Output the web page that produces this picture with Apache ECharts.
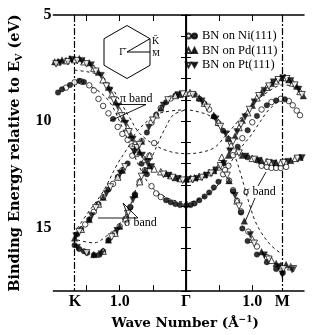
<!DOCTYPE html>
<html><head><meta charset="utf-8">
<script src="https://cdn.jsdelivr.net/npm/echarts@6/dist/echarts.min.js"></script>
<style>html,body{margin:0;padding:0;background:#fff}#c{width:313px;height:335px}</style>
</head><body><div id="c"></div>
<script>
// ---- axis definitions (k in 1/Å, Γ = 0; E in eV) ----
const kMin = -2.0, kMax = 1.78;
const kK = -1.676, kGamma = 0, kM = 1.451;
const kTickValues = [-1.5, -1.0, -0.5, 0.5, 1.0];
const kLabelValues = [-1.676, -1.0, 0, 1.0, 1.451];
const kLabelTexts = ['K', '1.0', 'Γ', '1.0', 'M'];
const eMin = 5, eMax = 18;
const eLabelValues = [5, 10, 15];

// ---- measured points [k, E] ----
const niOpen = [
  [-1.81,8.42],[-1.68,8.17],[-1.58,8.13],[-1.46,8.31],[-1.39,8.55],[-1.32,8.95],[-1.25,9.28],[-1.17,9.63],
  [-1.03,10.27],[-0.96,10.6],[-0.88,10.88],[-0.81,11.18],[-0.74,11.55],[-0.52,13.06],[-0.45,13.4],[-0.38,13.57],
  [0.56,12.5],[0.64,12.1],[0.71,11.6],[0.85,10.8],[1.0,10.05],[1.14,9.45],[1.29,9.1],[1.43,8.95],[1.55,9.05],[1.61,9.25],[1.67,9.5],[1.72,9.72],
  [-1.52,14.86],[-1.39,14.27],[-1.25,13.58],[-1.1,12.95],[-0.96,12.31],[-0.81,11.62],[-0.67,10.94],[-0.52,10.07],[-0.38,9.38],[-0.23,8.93],
  [-1.07,15.27],[-1.0,14.95],[-0.91,14.59],[-0.84,14.04],[-0.77,13.45],[-0.7,12.85],[-0.62,12.31],[-0.55,11.62],[-0.48,11.03],
  [0.2,8.95],[0.35,9.45],[0.49,10.1],[0.64,10.85],
  [1.14,12.1],[1.22,12.15],[1.29,12.2],[1.36,12.2],[1.43,12.2],[1.51,12.15],
  [0.59,12.3],[0.65,12.8],[0.71,13.25],[0.77,13.75],[0.83,14.25],[0.94,15.2],[1.07,15.9],[1.22,16.4]
];
const niFilled = [
  [-1.93,8.65],[-1.87,8.5],[-1.75,8.3],[-1.61,8.1],[-1.54,8.15],[-1.1,9.9],[-0.67,12.0],[-0.59,12.5],
  [-0.3,13.72],[-0.23,13.82],[-0.16,13.9],[-0.09,13.95],[0,13.97],[0.07,13.95],[0.13,13.87],[0.2,13.72],[0.28,13.55],[0.35,13.36],[0.42,13.12],[0.49,12.85],
  [0.78,11.2],[0.93,10.43],[1.07,9.75],[1.22,9.25],[1.36,9.02],[1.49,8.97],
  [-1.64,15.32],[-1.58,15.09],[-1.46,14.63],[-1.32,13.9],[-1.17,13.22],[-1.03,12.63],[-0.88,11.99],[-0.74,11.3],[-0.59,10.53],[-0.45,9.7],[-0.3,9.11],[-0.16,8.79],
  [-1.68,15.84],[-1.61,16.02],[-1.54,16.12],[-1.49,16.2],[-1.39,16.3],[-1.32,16.3],[-1.25,16.12],[-1.17,15.6],[-0.84,14.06],[-0.77,13.47],
  [0.13,8.75],[0.28,9.18],[0.42,9.78],[0.56,10.45],
  [0.71,13.3],[0.83,14.3],[0.85,15.05],[0.93,15.64],[1.07,16.28],[1.22,16.64],[1.36,16.96],[1.46,17.15],
  [0.93,11.7],[1.07,11.85]
];
const pdOpen = [
  [-1.93,7.2],[-1.81,7.15],[-1.68,7.1],[-1.54,7.2],[-1.39,7.5],[-1.25,8.05],[-1.12,8.75],[-1.0,9.5],[-0.88,10.3],[-0.77,11.05],[-0.62,11.8],[-0.48,12.25],
  [-0.38,12.38],[-0.23,12.56],[-0.09,12.7],[0.07,12.7],[0.2,12.6],[0.35,12.42],[0.49,12.15],
  [0.68,11.15],[0.8,10.3],[0.93,9.6],[1.07,8.9],[1.22,8.4],[1.36,8.1],[1.49,7.95],[1.61,8.2],[1.72,8.6],
  [-1.58,15.09],[-1.32,13.9],[-1.03,12.63],[-0.74,11.3],[-0.45,9.7],[-0.16,8.79],[0,8.68],
  [-1.25,16.12],[-1.07,15.27],[-0.91,14.59],[-0.7,12.85],[-0.55,11.62],
  [0.06,8.65],[0.28,9.15],[0.49,10.05],
  [0.78,11.4],[1.0,11.75],[1.22,11.9],[1.43,11.95],[1.65,11.75],
  [0.54,11.7],[0.77,13.75],[1.0,15.55],[1.29,16.55],[1.43,16.8],[1.58,16.85]
];
const pdFilled = [
  [-1.98,7.2],[-1.87,7.12],[-1.75,7.05],[-1.61,7.05],[-1.46,7.25],[-1.32,7.7],[-1.17,8.4],[-1.06,9.1],[-0.94,9.9],[-0.83,10.65],[-0.7,11.45],[-0.55,12.1],
  [-0.3,12.47],[-0.16,12.66],[0,12.72],[0.13,12.66],[0.28,12.52],[0.42,12.33],[0.56,11.92],
  [0.64,11.6],[0.74,10.7],[0.85,9.95],[1.0,9.25],[1.14,8.65],[1.29,8.22],[1.43,7.95],[1.55,8.05],[1.67,8.35],[1.77,8.8],
  [-1.68,15.5],[-1.46,14.63],[-1.25,13.58],[-0.96,12.31],[-0.67,10.94],[-0.38,9.38],[-0.09,8.74],
  [-1.39,16.28],[-1.17,15.59],[-1.0,14.95],[-0.77,13.45],[-0.62,12.31],
  [0.2,8.9],[0.42,9.72],[0.64,10.8],
  [0.85,11.6],[1.14,11.85],[1.36,11.95],[1.58,11.85],[1.72,11.7],
  [0.65,12.8],[0.88,14.7],[1.14,16.15],[1.36,16.7],[1.51,16.75]
];
const ptOpen = [
  [-1.96,7.3],[-1.78,7.2],[-1.64,7.15],[-1.5,7.3],[-1.36,7.65],[-1.2,8.35],[-1.09,9.0],[-0.97,9.75],[-0.86,10.5],[-0.74,11.25],[-0.58,11.95],
  [-0.34,12.5],[-0.2,12.65],[-0.05,12.78],[0.1,12.75],[0.24,12.65],[0.38,12.45],[0.52,12.1],
  [0.71,10.95],[0.83,10.15],[0.96,9.45],[1.1,8.8],[1.25,8.35],[1.39,8.05],[1.52,8.0],[1.64,8.3],[1.75,8.75],
  [-1.61,15.2],[-1.36,14.08],[-1.14,13.1],[-0.92,12.15],[-0.7,11.1],[-0.5,9.95],[-0.27,9.0],[-0.05,8.72],
  [-1.5,16.2],[-1.12,15.45],[-0.88,14.35],[-0.67,12.6],
  [0.1,8.75],[0.32,9.35],[0.52,10.25],
  [0.8,11.5],[1.03,11.8],[1.25,11.95],[1.47,11.95],[1.68,11.75],
  [0.62,12.55],[0.8,14.0],[1.03,15.75],[1.25,16.5],[1.47,16.95],[1.62,16.95]
];
const ptFilled = [
  [-1.9,7.25],[-1.72,7.1],[-1.57,7.15],[-1.43,7.35],[-1.28,7.85],[-1.15,8.55],[-1.03,9.3],[-0.91,10.1],[-0.8,10.85],[-0.66,11.6],[-0.52,12.15],
  [-0.26,12.55],[-0.12,12.7],[0.03,12.75],[0.17,12.7],[0.31,12.55],[0.45,12.3],
  [0.66,11.4],[0.77,10.5],[0.89,9.8],[1.03,9.1],[1.18,8.55],[1.32,8.15],[1.46,7.97],[1.58,8.1],[1.7,8.5],
  [-1.66,15.4],[-1.42,14.45],[-1.2,13.4],[-0.99,12.45],[-0.78,11.45],[-0.56,10.3],[-0.34,9.25],[-0.12,8.76],
  [-1.64,15.95],[-1.28,16.25],[-1.04,15.15],[-0.8,13.7],[-0.58,11.9],
  [0.24,9.05],[0.45,9.9],[0.6,10.6],
  [0.9,11.65],[1.1,11.85],[1.32,11.98],[1.54,11.9],[1.75,11.72],
  [0.57,12.0],[0.74,13.5],[0.97,15.35],[1.18,16.3],[1.4,16.85],[1.45,17.2],[1.6,17.0]
];

// ---- calculated bands (dashed) ----
const calcA = [[-1.68,7.6],[-1.46,7.69],[-1.27,7.88],[-1.10,8.52],[-0.96,9.25],[-0.84,9.89],[-0.70,10.57],[-0.45,11.16],[-0.23,11.44],[0,11.53],[0.20,11.48],[0.42,11.26],[0.59,10.71],[0.78,10.02],[0.93,9.47],[1.07,9.02],[1.22,8.65],[1.36,8.38],[1.46,8.29],[1.58,8.33],[1.72,8.52],[1.78,8.65]];
const calcB = [[-1.64,15.05],[-1.49,14.36],[-1.25,13.31],[-1.03,11.99],[-0.88,11.26],[-0.74,10.48],[-0.45,9.70],[-0.23,9.52],[0,9.47],[0.20,9.57],[0.38,9.79],[0.56,10.39],[0.67,11.26],[0.75,11.76],[0.83,12.53],[0.90,13.31],[0.97,14.04],[1.04,14.68],[1.14,15.27],[1.29,15.87],[1.46,16.28]];
const calcC = [[-1.64,15.59],[-1.39,15.73],[-1.20,15.41],[-1.00,14.82],[-0.85,14.04],[-0.77,13.31],[-0.67,12.67],[-0.59,12.21],[-0.49,11.53],[-0.41,10.94],[-0.30,10.25],[-0.19,9.70],[0,9.47]];
const calcD = [[-1.68,8.2],[-1.46,8.33],[-1.27,8.70],[-1.13,9.20],[-0.98,10.16],[-0.84,11.16],[-0.70,12.17],[-0.55,12.99],[-0.38,13.45],[-0.19,13.72],[0,13.81],[0.20,13.68],[0.42,13.22],[0.56,12.63],[0.71,11.76],[0.85,11.16],[0.97,10.71],[1.12,10.02],[1.26,9.43],[1.46,9.02],[1.61,9.16]];

const legendFilled = ['BN on Ni(111)', 'BN on Pd(111)', 'BN on Pt(111)'];
const legendOpen = ['Ni(111) open', 'Pd(111) open', 'Pt(111) open'];

const FONT = 'Liberation Serif';
const NAME_FONT = 'DejaVu Serif';
const DOWN_TRI = 'path://M0,0L10,0L5,9Z';

function pts(name, data, symbol, open, size) {
  return {
    type: 'scatter', name, data, symbol, symbolSize: size, z: 5, silent: true,
    itemStyle: open ? {color: '#fff', borderColor: '#000', borderWidth: 0.9}
                    : {color: '#000', borderColor: '#000', borderWidth: 0.4}
  };
}
function calc(data, extra) {
  return Object.assign({
    type: 'line', data, showSymbol: false, symbol: 'none', smooth: 0.35, z: 2, silent: true,
    lineStyle: {color: '#000', width: 0.9, type: [3, 3]}
  }, extra || {});
}

const chart = echarts.init(document.getElementById('c'), null, {renderer: 'canvas'});
const axisLine = {show: true, lineStyle: {color: '#000', width: 1.5}};
chart.setOption({
  animation: false,
  backgroundColor: '#fff',
  grid: {left: 43, right: 9, top: 15, bottom: 35, containLabel: false},
  xAxis: [{
    type: 'value', min: kMin, max: kMax, position: 'bottom',
    axisLine, splitLine: {show: false},
    axisTick: {show: true, inside: true, length: 6, customValues: kTickValues, lineStyle: {color: '#000', width: 1}},
    axisLabel: {show: true, customValues: kLabelValues, margin: 3, color: '#000',
      fontFamily: FONT, fontWeight: 'bold', fontSize: 16,
      formatter: v => { const i = kLabelValues.findIndex(x => Math.abs(x - v) < 1e-6); return i >= 0 ? kLabelTexts[i] : ''; }},
    name: 'Wave Number (Å{sup|−1})', nameLocation: 'middle', nameGap: 21,
    nameTextStyle: {color: '#000', fontFamily: NAME_FONT, fontWeight: 'bold', fontSize: 13.5, padding: [0, 0, 0, 13],
      rich: {sup: {fontFamily: NAME_FONT, fontWeight: 'bold', fontSize: 9, verticalAlign: 'top', lineHeight: 16}}}
  }, {
    type: 'value', min: kMin, max: kMax, position: 'top',
    axisLine, splitLine: {show: false},
    axisTick: {show: true, inside: true, length: 6, customValues: kTickValues, lineStyle: {color: '#000', width: 1}},
    axisLabel: {show: false}
  }],
  yAxis: [{
    type: 'value', inverse: true, min: eMin, max: eMax, interval: 1, position: 'left',
    axisLine, splitLine: {show: false},
    axisTick: {show: true, inside: true, length: 5, lineStyle: {color: '#000', width: 1}},
    axisLabel: {show: true, margin: 2, color: '#000', fontFamily: FONT, fontWeight: 'bold', fontSize: 16,
      formatter: v => eLabelValues.includes(v) ? String(v) : ''},
    name: 'Binding Energy relative to E{sub|V} (eV)', nameLocation: 'middle', nameRotate: 90, nameGap: 25,
    nameTextStyle: {color: '#000', fontFamily: NAME_FONT, fontWeight: 'bold', fontSize: 14.5,
      rich: {sub: {fontFamily: NAME_FONT, fontWeight: 'bold', fontSize: 9.5, verticalAlign: 'bottom', lineHeight: 18}}}
  }, {
    type: 'value', inverse: true, min: eMin, max: eMax, interval: 1, position: 'right',
    axisLine, splitLine: {show: false},
    axisTick: {show: true, inside: true, length: 5, lineStyle: {color: '#000', width: 1}},
    axisLabel: {show: false}
  }],
  legend: [{
    data: legendOpen, orient: 'vertical', left: 180, top: 24, itemWidth: 5, itemHeight: 5, itemGap: 0.5,
    selectedMode: false, formatter: () => ' ',
    textStyle: {fontFamily: FONT, fontSize: 12.5, lineHeight: 14, color: '#000'}
  }, {
    data: legendFilled, orient: 'vertical', left: 186, top: 24, itemWidth: 5, itemHeight: 5, itemGap: 0.5,
    selectedMode: false,
    textStyle: {fontFamily: FONT, fontSize: 12.5, lineHeight: 14, color: '#000'}
  }],
  series: [
    calc(calcA, {markLine: {
      silent: true, symbol: ['none', 'none'], label: {show: false},
      lineStyle: {color: '#000', width: 1.2},
      data: [
        {xAxis: kK, lineStyle: {type: [7, 2, 2, 2]}},
        {xAxis: kGamma, lineStyle: {type: 'solid'}},
        {xAxis: kM, lineStyle: {type: [7, 2, 2, 2]}}
      ]}}),
    calc(calcB), calc(calcC), calc(calcD),
    pts(legendOpen[0], niOpen, 'circle', true, 5.5),
    pts(legendFilled[0], niFilled, 'circle', false, 5.5),
    pts(legendOpen[1], pdOpen, 'triangle', true, 6.5),
    pts(legendFilled[1], pdFilled, 'triangle', false, 6.5),
    pts(legendOpen[2], ptOpen, DOWN_TRI, true, 6.5),
    pts(legendFilled[2], ptFilled, DOWN_TRI, false, 6.5)
  ],
  graphic: [
    {type: 'polygon', shape: {points: [[127,25.5],[150,38.7],[150,65.3],[127,78.5],[104,65.3],[104,38.7]]},
     style: {fill: '#fff', stroke: '#000', lineWidth: 1}, z: 10},
    {type: 'polyline', shape: {points: [[150,38.7],[127,52],[150,52]]}, style: {fill: null, stroke: '#000', lineWidth: 1}, z: 11},
    {type: 'text', x: 125, y: 52, z: 11, style: {text: 'Γ\u0304', fontFamily: FONT, fontSize: 10, fill: '#000', align: 'right', verticalAlign: 'middle'}},
    {type: 'text', x: 152, y: 41, z: 11, style: {text: 'K\u0304', fontFamily: FONT, fontSize: 10, fill: '#000', align: 'left', verticalAlign: 'middle'}},
    {type: 'text', x: 152, y: 54, z: 11, style: {text: 'M\u0304', fontFamily: FONT, fontSize: 9, fill: '#000', align: 'left', verticalAlign: 'middle'}},
    {type: 'text', x: 120, y: 99, z: 11, style: {text: 'π band', fontFamily: FONT, fontSize: 12, fill: '#000', align: 'left', verticalAlign: 'middle'}},
    {type: 'polyline', shape: {points: [[116,104.5],[146,104.5],[110,121]]}, style: {fill: null, stroke: '#000', lineWidth: 0.9}, z: 11},
    {type: 'text', x: 124, y: 223, z: 11, style: {text: 'σ band', fontFamily: FONT, fontSize: 12, fill: '#000', align: 'left', verticalAlign: 'middle'}},
    {type: 'polyline', shape: {points: [[98,218],[138,218],[123,203],[129,218]]}, style: {fill: null, stroke: '#000', lineWidth: 0.9}, z: 11},
    {type: 'text', x: 243, y: 192, z: 11, style: {text: 'σ band', fontFamily: FONT, fontSize: 12, fill: '#000', align: 'left', verticalAlign: 'middle'}},
    {type: 'line', shape: {x1: 266, y1: 172, x2: 258, y2: 186}, style: {stroke: '#000', lineWidth: 0.9}, z: 11},
    {type: 'line', shape: {x1: 255, y1: 198, x2: 245, y2: 222}, style: {stroke: '#000', lineWidth: 0.9}, z: 11}
  ]
});
</script></body></html>
